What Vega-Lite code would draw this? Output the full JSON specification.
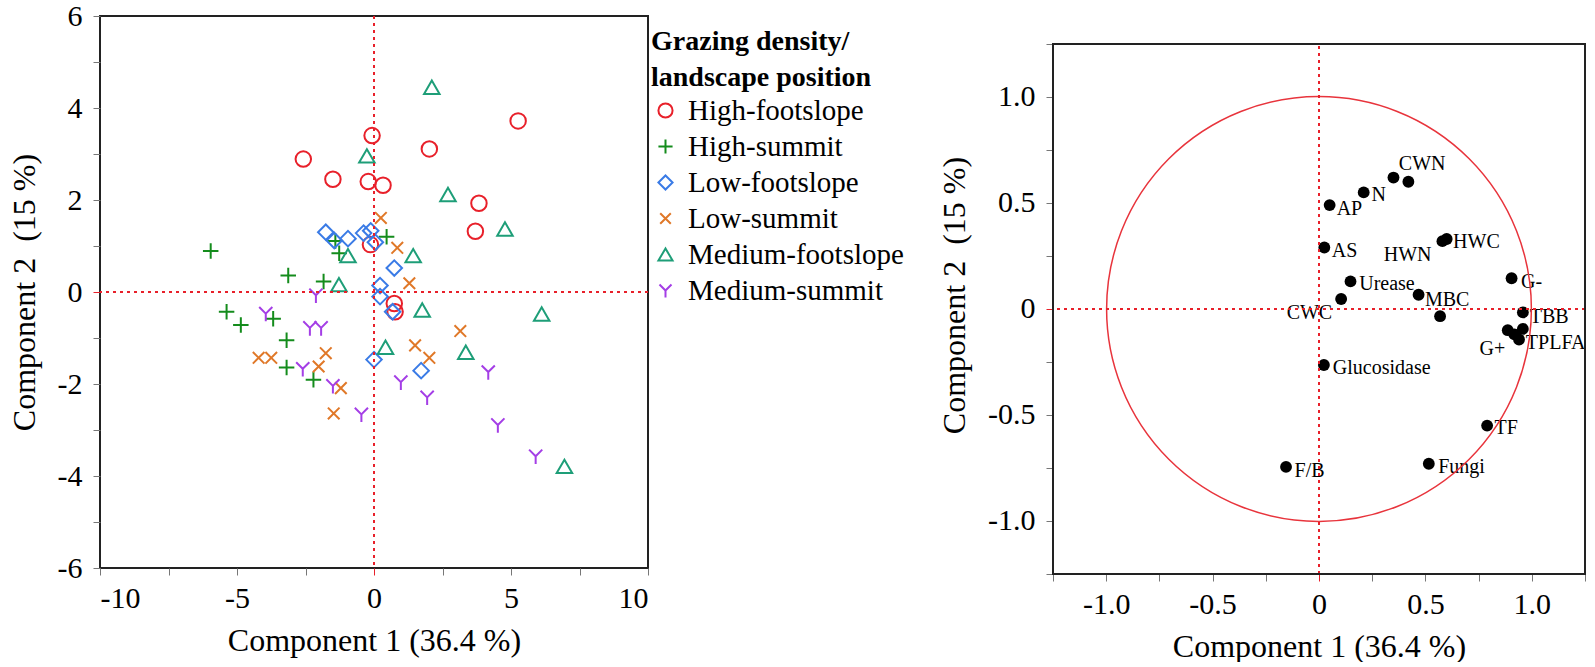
{
  "$schema": "https://vega.github.io/schema/vega-lite/v6.json",
  "padding": {"left": 7, "top": 0, "right": 0, "bottom": 0},
  "spacing": 33,
  "config": {
    "font": "Liberation Serif",
    "view": {"stroke": "#222", "strokeWidth": 2},
    "axis": {
      "domain": false,
      "grid": false,
      "tickColor": "#777",
      "tickSize": 7,
      "labelFontSize": 30,
      "labelColor": "black",
      "titleFontSize": 32,
      "titleFontWeight": "normal",
      "titleColor": "black"
    },
    "axisX": {"labelPadding": 8, "titlePadding": 12},
    "axisY": {"labelPadding": 11, "titlePadding": 16},
    "legend": {
      "titleFontSize": 28,
      "titleFontWeight": "bold",
      "titleLineHeight": 36,
      "titleColor": "black",
      "titlePadding": 4,
      "titleLimit": 400,
      "labelFontSize": 29,
      "labelColor": "black",
      "labelLimit": 400,
      "labelOffset": 8,
      "symbolSize": 200,
      "symbolStrokeWidth": 2,
      "rowPadding": 6
    }
  },
  "datasets": {
    "scores": [
      {"g": "High-footslope", "pc1": -2.58, "pc2": 2.89},
      {"g": "High-footslope", "pc1": -1.5, "pc2": 2.45},
      {"g": "High-footslope", "pc1": -0.21, "pc2": 2.4},
      {"g": "High-footslope", "pc1": 0.33, "pc2": 2.32},
      {"g": "High-footslope", "pc1": -0.07, "pc2": 3.4},
      {"g": "High-footslope", "pc1": 2.02, "pc2": 3.11},
      {"g": "High-footslope", "pc1": 5.26, "pc2": 3.72},
      {"g": "High-footslope", "pc1": 3.83, "pc2": 1.93},
      {"g": "High-footslope", "pc1": 3.7, "pc2": 1.32},
      {"g": "High-footslope", "pc1": -0.13, "pc2": 1.03},
      {"g": "High-footslope", "pc1": 0.74, "pc2": -0.25},
      {"g": "High-footslope", "pc1": 0.77, "pc2": -0.43},
      {"g": "High-summit", "pc1": -5.96, "pc2": 0.89},
      {"g": "High-summit", "pc1": 0.46, "pc2": 1.2},
      {"g": "High-summit", "pc1": -1.41, "pc2": 1.11},
      {"g": "High-summit", "pc1": -1.27, "pc2": 0.84},
      {"g": "High-summit", "pc1": -3.13, "pc2": 0.36},
      {"g": "High-summit", "pc1": -1.84, "pc2": 0.23},
      {"g": "High-summit", "pc1": -5.38, "pc2": -0.43},
      {"g": "High-summit", "pc1": -4.86, "pc2": -0.72},
      {"g": "High-summit", "pc1": -3.68, "pc2": -0.58},
      {"g": "High-summit", "pc1": -3.19, "pc2": -1.05},
      {"g": "High-summit", "pc1": -3.19, "pc2": -1.64},
      {"g": "High-summit", "pc1": -2.21, "pc2": -1.91},
      {"g": "Low-footslope", "pc1": -1.76, "pc2": 1.3},
      {"g": "Low-footslope", "pc1": -1.45, "pc2": 1.12},
      {"g": "Low-footslope", "pc1": -0.95, "pc2": 1.16},
      {"g": "Low-footslope", "pc1": -0.38, "pc2": 1.28},
      {"g": "Low-footslope", "pc1": -0.12, "pc2": 1.33},
      {"g": "Low-footslope", "pc1": 0.05, "pc2": 1.08},
      {"g": "Low-footslope", "pc1": 0.74, "pc2": 0.52},
      {"g": "Low-footslope", "pc1": 0.22, "pc2": 0.14},
      {"g": "Low-footslope", "pc1": 0.22, "pc2": -0.1},
      {"g": "Low-footslope", "pc1": 0.68, "pc2": -0.43},
      {"g": "Low-footslope", "pc1": 0.0, "pc2": -1.47},
      {"g": "Low-footslope", "pc1": 1.72, "pc2": -1.71},
      {"g": "Low-summit", "pc1": 0.25, "pc2": 1.61},
      {"g": "Low-summit", "pc1": 0.85, "pc2": 0.96},
      {"g": "Low-summit", "pc1": 1.29, "pc2": 0.19},
      {"g": "Low-summit", "pc1": 3.15, "pc2": -0.85},
      {"g": "Low-summit", "pc1": 1.5, "pc2": -1.16},
      {"g": "Low-summit", "pc1": 2.02, "pc2": -1.43},
      {"g": "Low-summit", "pc1": -4.21, "pc2": -1.43},
      {"g": "Low-summit", "pc1": -3.75, "pc2": -1.43},
      {"g": "Low-summit", "pc1": -1.76, "pc2": -1.33},
      {"g": "Low-summit", "pc1": -2.02, "pc2": -1.62},
      {"g": "Low-summit", "pc1": -1.21, "pc2": -2.09},
      {"g": "Low-summit", "pc1": -1.47, "pc2": -2.64},
      {"g": "Medium-footslope", "pc1": 2.11, "pc2": 4.45},
      {"g": "Medium-footslope", "pc1": -0.26, "pc2": 2.96},
      {"g": "Medium-footslope", "pc1": 2.7, "pc2": 2.12},
      {"g": "Medium-footslope", "pc1": 4.78, "pc2": 1.37},
      {"g": "Medium-footslope", "pc1": -0.95, "pc2": 0.79},
      {"g": "Medium-footslope", "pc1": 1.43, "pc2": 0.79},
      {"g": "Medium-footslope", "pc1": -1.28, "pc2": 0.16},
      {"g": "Medium-footslope", "pc1": 1.76, "pc2": -0.39},
      {"g": "Medium-footslope", "pc1": 6.12, "pc2": -0.48},
      {"g": "Medium-footslope", "pc1": 0.42, "pc2": -1.2},
      {"g": "Medium-footslope", "pc1": 3.35, "pc2": -1.31},
      {"g": "Medium-footslope", "pc1": 6.95, "pc2": -3.79},
      {"g": "Medium-summit", "pc1": -2.12, "pc2": -0.07},
      {"g": "Medium-summit", "pc1": -3.95, "pc2": -0.47},
      {"g": "Medium-summit", "pc1": -2.34, "pc2": -0.78},
      {"g": "Medium-summit", "pc1": -1.93, "pc2": -0.78},
      {"g": "Medium-summit", "pc1": -2.6, "pc2": -1.67},
      {"g": "Medium-summit", "pc1": -1.5, "pc2": -2.04},
      {"g": "Medium-summit", "pc1": -0.46, "pc2": -2.66},
      {"g": "Medium-summit", "pc1": 0.98, "pc2": -1.96},
      {"g": "Medium-summit", "pc1": 1.94, "pc2": -2.29},
      {"g": "Medium-summit", "pc1": 4.17, "pc2": -1.74},
      {"g": "Medium-summit", "pc1": 4.52, "pc2": -2.89},
      {"g": "Medium-summit", "pc1": 5.9, "pc2": -3.57}
    ],
    "loadings": [
      {"v": "CWN", "pc1": 0.35, "pc2": 0.62, "label": "CWN", "lx": 0.375, "ly": 0.684},
      {"v": "CWN2", "pc1": 0.42, "pc2": 0.6, "label": "", "lx": null, "ly": null},
      {"v": "N", "pc1": 0.21, "pc2": 0.55, "label": "N", "lx": 0.247, "ly": 0.54},
      {"v": "AP", "pc1": 0.05, "pc2": 0.49, "label": "AP", "lx": 0.083, "ly": 0.473},
      {"v": "AS", "pc1": 0.025, "pc2": 0.29, "label": "AS", "lx": 0.06, "ly": 0.275},
      {"v": "HWC", "pc1": 0.6, "pc2": 0.33, "label": "HWC", "lx": 0.63, "ly": 0.317},
      {"v": "HWN", "pc1": 0.58, "pc2": 0.32, "label": "HWN", "lx": 0.304, "ly": 0.255},
      {"v": "G-", "pc1": 0.905, "pc2": 0.145, "label": "G-", "lx": 0.949, "ly": 0.125},
      {"v": "Urease", "pc1": 0.148, "pc2": 0.13, "label": "Urease", "lx": 0.189, "ly": 0.119},
      {"v": "CWC", "pc1": 0.104, "pc2": 0.047, "label": "CWC", "lx": -0.152, "ly": -0.019},
      {"v": "MBC", "pc1": 0.468, "pc2": 0.067, "label": "MBC", "lx": 0.498, "ly": 0.044},
      {"v": "V12", "pc1": 0.569, "pc2": -0.034, "label": "", "lx": null, "ly": null},
      {"v": "TBB", "pc1": 0.958, "pc2": -0.016, "label": "TBB", "lx": 0.99, "ly": -0.0375},
      {"v": "TPLFA", "pc1": 0.94, "pc2": -0.144, "label": "TPLFA", "lx": 0.972, "ly": -0.1625},
      {"v": "G+", "pc1": 0.887, "pc2": -0.1, "label": "G+", "lx": 0.754, "ly": -0.19},
      {"v": "V16", "pc1": 0.918, "pc2": -0.12, "label": "", "lx": null, "ly": null},
      {"v": "V17", "pc1": 0.958, "pc2": -0.094, "label": "", "lx": null, "ly": null},
      {"v": "Glucosidase", "pc1": 0.023, "pc2": -0.264, "label": "Glucosidase", "lx": 0.065, "ly": -0.277},
      {"v": "TF", "pc1": 0.79, "pc2": -0.55, "label": "TF", "lx": 0.825, "ly": -0.5625},
      {"v": "Fungi", "pc1": 0.516, "pc2": -0.73, "label": "Fungi", "lx": 0.56, "ly": -0.745},
      {"v": "F/B", "pc1": -0.155, "pc2": -0.745, "label": "F/B", "lx": -0.115, "ly": -0.766}
    ]
  },
  "resolve": {
    "scale": {"x": "independent", "y": "independent", "color": "independent", "shape": "independent"},
    "axis": {"x": "independent", "y": "independent"},
    "legend": {"color": "independent", "shape": "independent"}
  },
  "hconcat": [
    {
      "width": 548,
      "height": 552,
      "layer": [
        {
          "data": {"name": "scores"},
          "mark": {"type": "point", "filled": false, "strokeWidth": 2, "size": 240, "opacity": 1},
          "encoding": {
            "x": {
              "field": "pc1",
              "type": "quantitative",
              "scale": {"domain": [-10, 10], "nice": false, "zero": false},
              "axis": {
                "title": "Component 1 (36.4 %)",
                "values": [-10, -7.5, -5, -2.5, 0, 2.5, 5, 7.5, 10],
                "labelExpr": "datum.value % 5 === 0 ? '' + datum.value : ''",
                "tickColor": {"condition": {"test": "datum.value === 0", "value": "#e8202a"}, "value": "#777"}
              }
            },
            "y": {
              "field": "pc2",
              "type": "quantitative",
              "scale": {"domain": [-6, 6], "nice": false, "zero": false},
              "axis": {
                "title": "Component 2\u00a0 (15 %)",
                "values": [-6, -5, -4, -3, -2, -1, 0, 1, 2, 3, 4, 5, 6],
                "labelExpr": "datum.value % 2 === 0 ? '' + datum.value : ''",
                "tickColor": {"condition": {"test": "datum.value === 0", "value": "#e8202a"}, "value": "#777"}
              }
            },
            "color": {
              "field": "g",
              "type": "nominal",
              "scale": {
                "domain": ["High-footslope", "High-summit", "Low-footslope", "Low-summit", "Medium-footslope", "Medium-summit"],
                "range": ["#e8202a", "#148c1c", "#3a7be6", "#e07828", "#1e9e78", "#a43ee6"]
              },
              "legend": {"title": ["Grazing density/", "landscape position"], "orient": "none", "legendX": 551, "legendY": 12}
            },
            "shape": {
              "field": "g",
              "type": "nominal",
              "scale": {
                "domain": ["High-footslope", "High-summit", "Low-footslope", "Low-summit", "Medium-footslope", "Medium-summit"],
                "range": [
                  "circle",
                  "M-1,0L1,0M0,-1L0,1",
                  "diamond",
                  "M-0.75,-0.75L0.75,0.75M-0.75,0.75L0.75,-0.75",
                  "triangle-up",
                  "M0,0L0,1M0,0L-0.85,-0.85M0,0L0.85,-0.85"
                ]
              },
              "legend": {"title": ["Grazing density/", "landscape position"], "orient": "none", "legendX": 551, "legendY": 12}
            }
          }
        },
        {
          "data": {"values": [{}]},
          "mark": {"type": "rule", "color": "#e8202a", "strokeWidth": 2, "strokeDash": [3, 4]},
          "encoding": {"x": {"datum": 0, "type": "quantitative"}}
        },
        {
          "data": {"values": [{}]},
          "mark": {"type": "rule", "color": "#e8202a", "strokeWidth": 2, "strokeDash": [3, 4]},
          "encoding": {"y": {"datum": 0, "type": "quantitative"}}
        }
      ]
    },
    {
      "width": 532,
      "height": 558,
      "view": {"stroke": null},
      "layer": [
        {
          "data": {"name": "loadings"},
          "mark": {"type": "circle", "size": 140, "color": "black", "opacity": 1},
          "encoding": {
            "x": {
              "field": "pc1",
              "type": "quantitative",
              "scale": {"domain": [-1.25, 1.25], "nice": false, "zero": false},
              "axis": {
                "title": "Component 1 (36.4 %)",
                "values": [-1.25, -1, -0.75, -0.5, -0.25, 0, 0.25, 0.5, 0.75, 1, 1.25],
                "labelExpr": "datum.value === 0 ? '0' : (abs(datum.value * 2 - round(datum.value * 2)) < 0.001 ? (datum.value < 0 ? '-' : '') + format(abs(datum.value), '.1f') : '')",
                "tickColor": {"condition": {"test": "datum.value === 0", "value": "#e8202a"}, "value": "#777"}
              }
            },
            "y": {
              "field": "pc2",
              "type": "quantitative",
              "scale": {"domain": [-1.25, 1.382], "nice": false, "zero": false},
              "axis": {
                "title": "Component 2\u00a0 (15 %)",
                "values": [-1.25, -1, -0.75, -0.5, -0.25, 0, 0.25, 0.5, 0.75, 1, 1.25],
                "labelExpr": "datum.value === 0 ? '0' : (abs(datum.value * 2 - round(datum.value * 2)) < 0.001 ? (datum.value < 0 ? '-' : '') + format(abs(datum.value), '.1f') : '')",
                "tickColor": {"condition": {"test": "datum.value === 0", "value": "#e8202a"}, "value": "#777"}
              }
            }
          }
        },
        {
          "data": {"name": "loadings"},
          "transform": [{"filter": "datum.label != ''"}],
          "mark": {"type": "text", "align": "left", "baseline": "middle", "fontSize": 20, "color": "black"},
          "encoding": {
            "x": {"field": "lx", "type": "quantitative"},
            "y": {"field": "ly", "type": "quantitative"},
            "text": {"field": "label"}
          }
        },
        {
          "data": {"values": [{}]},
          "mark": {"type": "point", "shape": "circle", "filled": false, "color": "#e8343c", "strokeWidth": 1.5, "size": 180455, "opacity": 1},
          "encoding": {
            "x": {"datum": 0, "type": "quantitative"},
            "y": {"datum": 0, "type": "quantitative"}
          }
        },
        {
          "data": {"values": [{}]},
          "mark": {"type": "rule", "color": "#e8202a", "strokeWidth": 2, "strokeDash": [3, 4]},
          "encoding": {
            "x": {"datum": 0, "type": "quantitative"},
            "y": {"datum": -1.25, "type": "quantitative"},
            "y2": {"datum": 1.25}
          }
        },
        {
          "data": {"values": [{}]},
          "mark": {"type": "rule", "color": "#e8202a", "strokeWidth": 2, "strokeDash": [3, 4]},
          "encoding": {"y": {"datum": 0, "type": "quantitative"}}
        },
        {
          "data": {"values": [{}]},
          "mark": {"type": "rect", "filled": false, "stroke": "#222", "strokeWidth": 2},
          "encoding": {
            "x": {"datum": -1.25, "type": "quantitative"},
            "x2": {"datum": 1.25},
            "y": {"datum": -1.25, "type": "quantitative"},
            "y2": {"datum": 1.25}
          }
        }
      ]
    }
  ]
}
